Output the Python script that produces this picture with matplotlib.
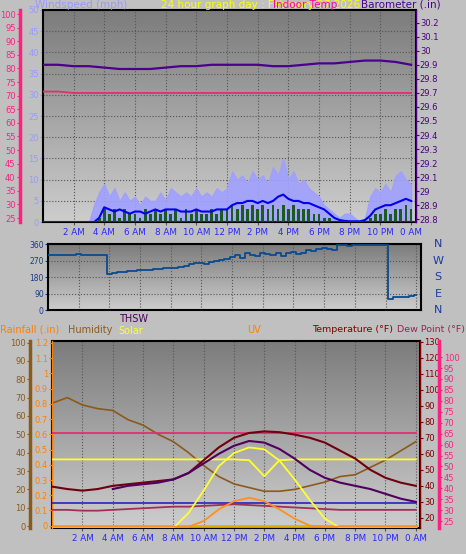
import numpy as np
import matplotlib
matplotlib.use("Agg")
import matplotlib.pyplot as plt

# ---------------- data ----------------
hour_labels = ["2 AM","4 AM","6 AM","8 AM","10 AM","12 PM","2 PM","4 PM","6 PM","8 PM","10 PM","0 AM"]
t20 = np.arange(73) / 3.0   # 20-minute samples
wind_gust = [0,0,0,0,0,0,0,0,0,0,4,7,9,6,8,5,7,5,6,4,6,5,5,7,5,8,7,6,7,6,8,6,7,6,8,7,8,12,10,11,9,12,10,11,9,13,11,15,10,12,9,10,8,7,6,4,3,2,1,2,2,1,0,1,6,8,7,9,7,11,12,10,9]
wind_avg = [0,0,0,0,0,0,0,0,0,0,0,1,3.5,3,2.5,3,2.5,2,2.5,2.5,2,2.5,3,2.5,3,3,3,2.5,2.5,2.5,3,2.5,2.5,2.5,3,3,3,4,4.5,4.5,5,5,4.5,5,4.5,5,6,6.5,5.5,5,5,4.5,4.5,4,3.5,3,2,1,0.5,0.3,0.2,0.2,0.2,0.5,1.5,3,3.5,4,4,4.5,5,5.5,5]
wind_speed = [0,0,0,0,0,0,0,0,0,0,0,1,3,2,3,1,3,2,2,1,3,2,3,2,3,2,3,1,3,2,3,2,2,3,2,3,3,4,3,4,3,4,3,4,3,4,3,4,3,4,3,3,3,2,2,1,1,0,0,0,0,0,0,0,1,2,2,3,2,3,3,4,3]
barometer = [29.90,29.90,29.89,29.89,29.88,29.87,29.87,29.87,29.88,29.89,29.89,29.90,29.90,29.90,29.90,29.89,29.89,29.90,29.91,29.91,29.92,29.93,29.93,29.92,29.90]
indoor_temp = [71.5,71.5,71,71,71,71,71,71,71,71,71,71,71,71,71,71,71,71,71,71,71,71,71,71,71]
wind_dir = [300,300,300,300,300,300,305,300,300,300,300,300,200,205,210,210,215,215,220,220,220,225,225,230,230,230,235,240,255,260,260,255,265,270,275,280,290,300,285,310,300,295,310,305,300,310,295,315,320,305,315,330,325,335,340,335,330,355,355,350,355,355,355,355,355,355,355,60,70,70,75,80,85]
hours = np.arange(25)
humidity = [67,70,66,64,63,58,55,50,46,40,33,27,23,21,19,19,20,22,24,27,28,32,36,41,46]
temperature = [39.5,38,37,38,40,41,42,43,44,48,56,64,70,73,74,73.5,72,70,67,62,57,50,45,42,40]
thsw = [np.nan,np.nan,np.nan,np.nan,38,40,41,42,44,48,54,60,65,68,67,63,57,50,45,42,40,38,35,32,30]
dew_point = [25,25,24.5,24.5,25,25.5,26,26.5,27,27,27.5,28,28.5,28,27.5,27,26.5,26,25.5,25,25,25,25,25,25]
wind_chill = [29.5]*25
heat_index = [56.5,56.5,56.5,56.5,56.5,56.5,56.5,56.5,56.5,56.5,56.5,56.5,56.5,56,46,56,56.5,56.5,56.5,56.5,56.5,56.5,56.5,56.5,56.5]
indoor_temp2 = [73]*25
solar = [0,0,0,0,0,0,0,0,0,80,200,330,400,430,420,360,260,150,50,0,0,0,0,0,0]
uv = [0,0,0,0,0,0,0,0,0,0,0.5,1.5,2.2,2.5,2.2,1.5,0.7,0.1,0,0,0,0,0,0,0]
rain = [0]*25

# --------------- style ----------------
BG = "#c0c0c0"
fig = plt.figure(figsize=(4.66, 5.54), dpi=100, facecolor=BG)
FS = 6.0
XTC = "#2828ff"

def bgrad(ax):
    g = np.linspace(0, 1, 100).reshape(-1, 1)
    ax.imshow(g, extent=[0, 1, 0, 1], transform=ax.transAxes, cmap=matplotlib.colors.LinearSegmentedColormap.from_list("g", ["#7c7c7c", "#cdcdcd"]),
              aspect="auto", zorder=0)
    ax.grid(True, color="#555555", linestyle=":", linewidth=0.8)
    for s in ax.spines.values():
        s.set_color("black"); s.set_linewidth(1.5)

def xaxis(ax, show=True):
    ax.set_xlim(0, 24.3)
    ax.set_xticks(np.arange(2, 25, 2))
    if show:
        ax.set_xticklabels(hour_labels, color=XTC, fontsize=FS + 0.3)
    else:
        ax.set_xticklabels([])
    ax.tick_params(axis="x", length=2, color="#555555", pad=2)

def side_axis(host, side, pos, lim, ticks, color, labels=None, spinew=1.0):
    a = host.twinx()
    a.set_ylim(*lim)
    a.spines[side].set_position(("axes", pos))
    a.spines[side].set_visible(True)
    a.spines[side].set_color(color)
    a.spines[side].set_linewidth(spinew)
    for k in ["left", "right", "top", "bottom"]:
        if k != side:
            a.spines[k].set_visible(False)
    a.yaxis.set_ticks_position(side)
    a.yaxis.set_label_position(side)
    a.set_yticks(ticks)
    if labels is not None:
        a.set_yticklabels(labels)
    a.tick_params(axis="y", colors=color, labelsize=FS, length=2, pad=1)
    a.patch.set_visible(False)
    return a

# ---------------- top panel ----------------
ax1 = fig.add_axes([0.092, 0.599, 0.800, 0.383])
bgrad(ax1)
xaxis(ax1)
ax1.set_ylim(0, 50)
ax1.set_yticks(np.arange(0, 51, 5))
ax1.tick_params(axis="y", colors="#9999ff", labelsize=FS, length=2, pad=1)
ax1.fill_between(t20, wind_gust, color="#a0a0ff", alpha=0.9, zorder=2)
ax1.bar(t20, wind_speed, width=0.18, color="#1e5a1e", zorder=3)
ax1.plot(t20, wind_avg, color="#0000ee", lw=1.5, zorder=4)
ax1.axhline(0, color="#103080", lw=2, zorder=4)
pk = side_axis(ax1, "left", -0.062, (23.5, 101.5), np.arange(25, 101, 5), "#ff2080", spinew=2.5)
pk.plot(hours, indoor_temp, color="#e03070", lw=1.3, zorder=3)
br = side_axis(ax1, "right", 1.0, (28.78, 30.29), np.round(np.arange(28.8, 30.25, 0.1), 1), "#4b0080",
               labels=[f"{v:.1f}" if abs(v - round(v)) > 1e-6 else str(int(round(v))) for v in np.arange(28.8, 30.25, 0.1)])
br.plot(hours, barometer, color="#4b0090", lw=1.6, zorder=3)

fig.text(0.075, 0.982, "Windspeed (mph)", color="#9999ff", fontsize=7.5, ha="left", va="bottom")
fig.text(0.56, 0.982, "24 hour graph day : February 27 2026", color="#ffff00", fontsize=7.5, ha="center", va="bottom")
fig.text(0.655, 0.982, "Indoor Temp", color="#ff00aa", fontsize=7.5, ha="center", va="bottom")
fig.text(0.945, 0.982, "Barometer (.in)", color="#4b0090", fontsize=7.5, ha="right", va="bottom")

# ---------------- middle panel ----------------
ax2 = fig.add_axes([0.103, 0.440, 0.800, 0.119])
bgrad(ax2)
xaxis(ax2, show=False)
ax2.tick_params(axis="x", length=0)
ax2.set_ylim(0, 360)
ax2.set_yticks([0, 90, 180, 270, 360])
ax2.tick_params(axis="y", colors="#1a3a8a", labelsize=FS - 0.5, length=2, pad=1)
ax2.plot(t20, wind_dir, color="#0a4a90", lw=1.3, drawstyle="steps-mid", zorder=3)
for lab, v in zip(["N", "W", "S", "E", "N"], [360, 270, 180, 90, 0]):
    y = 0.440 + 0.119 * v / 360
    fig.text(0.94, y, lab, color="#1a3aa0", fontsize=8, ha="center", va="center")

# ---------------- bottom panel ----------------
ax3 = fig.add_axes([0.112, 0.047, 0.790, 0.338])
bgrad(ax3)
xaxis(ax3)
ax3.set_ylim(-1, 101)
ax3.set_yticks([])
hu = side_axis(ax3, "left", -0.06, (-1, 101), np.arange(0, 101, 10), "#8b5a1a", spinew=2.5)
hu.tick_params(axis="y", colors="#8b5a1a")
hu.plot(hours, humidity, color="#8b5a1a", lw=1.2, zorder=3)
rn = side_axis(ax3, "left", 0.0, (-0.015, 1.215), np.round(np.arange(0, 1.21, 0.1), 1), "#ff8000",
               labels=["0"] + [f"{v:.1f}" for v in np.arange(0.1, 0.95, 0.1)] + ["1", "1.1", "1.2"])
rn.plot(hours, rain, color="#e0b000", lw=2, zorder=3)
tp = side_axis(ax3, "right", 1.0, (13.7, 130.6), np.arange(20, 131, 10), "#800000")
tp.plot(hours, indoor_temp2, color="#e03070", lw=1.3, zorder=3)
tp.plot(hours, heat_index, color="#ffff30", lw=1.3, zorder=3)
tp.plot(hours, wind_chill, color="#3030c0", lw=1.3, zorder=3)
tp.plot(hours, dew_point, color="#a0305a", lw=1.3, zorder=3)
tp.plot(hours, temperature, color="#700010", lw=1.5, zorder=4)
tp.plot(hours, thsw, color="#500060", lw=1.5, zorder=4)
dp = side_axis(ax3, "right", 1.052, (21.9, 107.5), np.arange(25, 101, 5), "#ff2080", spinew=2.5)
so = ax3.twinx(); so.set_ylim(0, 1000); so.axis("off")
so.plot(hours, solar, color="#ffff30", lw=1.3, zorder=3)
uvx = ax3.twinx(); uvx.set_ylim(-0.1, 16); uvx.axis("off")
uvx.plot(hours, uv, color="#ff9020", lw=1.3, zorder=3)

fig.text(0.0, 0.405, "Rainfall (.in)", color="#ff8000", fontsize=7, ha="left", va="center")
fig.text(0.145, 0.405, "Humidity", color="#8b5a1a", fontsize=7, ha="left", va="center")
fig.text(0.255, 0.425, "THSW", color="#500060", fontsize=7, ha="left", va="center")
fig.text(0.255, 0.402, "Solar", color="#ffff30", fontsize=7, ha="left", va="center")
fig.text(0.53, 0.405, "UV", color="#ff8000", fontsize=7, ha="left", va="center")
fig.text(0.67, 0.405, "Temperature (°F)", color="#800000", fontsize=6.8, ha="left", va="center")
fig.text(0.998, 0.405, "Dew Point (°F)", color="#a02050", fontsize=6.8, ha="right", va="center")

fig.savefig("out.png", dpi=100, facecolor=BG)
